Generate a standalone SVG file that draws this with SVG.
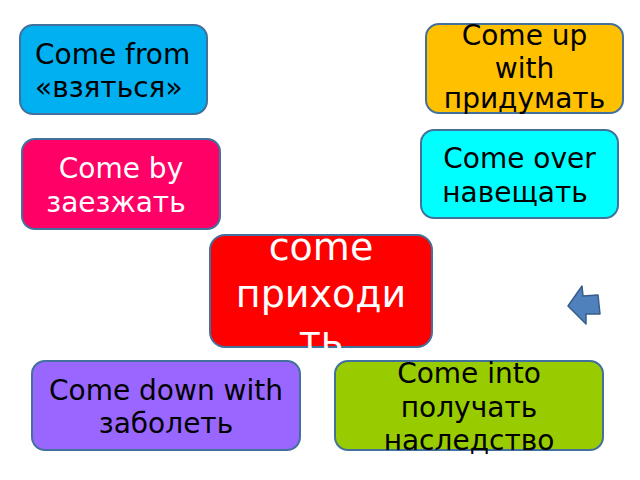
<svg xmlns="http://www.w3.org/2000/svg" width="640" height="480" viewBox="0 0 640 480">
<style>
.box{stroke:#41719C;stroke-width:2}
.t{font-family:"DejaVu Sans","Noto Sans",sans-serif;font-size:28px;fill:#000}
.w{fill:#fff}
.c{text-anchor:middle}
.big{font-size:38px}
</style>
<rect width="640" height="480" fill="#fff"/>
<g id="connectors">
<polygon points="568,306 582,286 583,296 598,295 600,314 586,314 586,324" fill="#4F81BD" stroke="#385D8A" stroke-width="1.5" stroke-linejoin="round"/>
</g>
<g id="node-come-from">
<rect class="box" x="20" y="25" width="187" height="89" rx="13" fill="#00B0F0"/>
<text class="t" x="35" y="64">Come from</text>
<text class="t" x="35" y="97">«взяться»</text>
</g>
<g id="node-come-up-with">
<rect class="box" x="426" y="24" width="197" height="89" rx="13" fill="#FFC000"/>
<text class="t c" x="524.5" y="45">Come up</text>
<text class="t c" x="524.5" y="78">with</text>
<text class="t c" x="524.5" y="108">придумать</text>
</g>
<g id="node-come-by">
<rect class="box" x="22" y="139" width="198" height="90" rx="13" fill="#FF0066"/>
<text class="t w c" x="121" y="178">Come by</text>
<text class="t w c" x="116" y="212">заезжать</text>
</g>
<g id="node-come-over">
<rect class="box" x="421" y="130" width="197" height="88" rx="13" fill="#00FFFF"/>
<text class="t c" x="519.5" y="168">Come over</text>
<text class="t c" x="515" y="202">навещать</text>
</g>
<g id="node-come">
<rect class="box" x="210" y="235" width="222" height="112" rx="15" fill="#FF0000"/>
<text class="t w c big" x="321" y="260">come</text>
<text class="t w c big" x="321" y="307">приходи</text>
<text class="t w c big" x="321" y="353">ть</text>
</g>
<g id="node-come-down-with">
<rect class="box" x="32" y="361" width="268" height="89" rx="13" fill="#9966FF"/>
<text class="t c" x="166" y="400">Come down with</text>
<text class="t c" x="166" y="433">заболеть</text>
</g>
<g id="node-come-into">
<rect class="box" x="335" y="361" width="268" height="89" rx="13" fill="#99CC00"/>
<text class="t c" x="469" y="383">Come into</text>
<text class="t c" x="469" y="417">получать</text>
<text class="t c" x="469" y="450">наследство</text>
</g>
</svg>
